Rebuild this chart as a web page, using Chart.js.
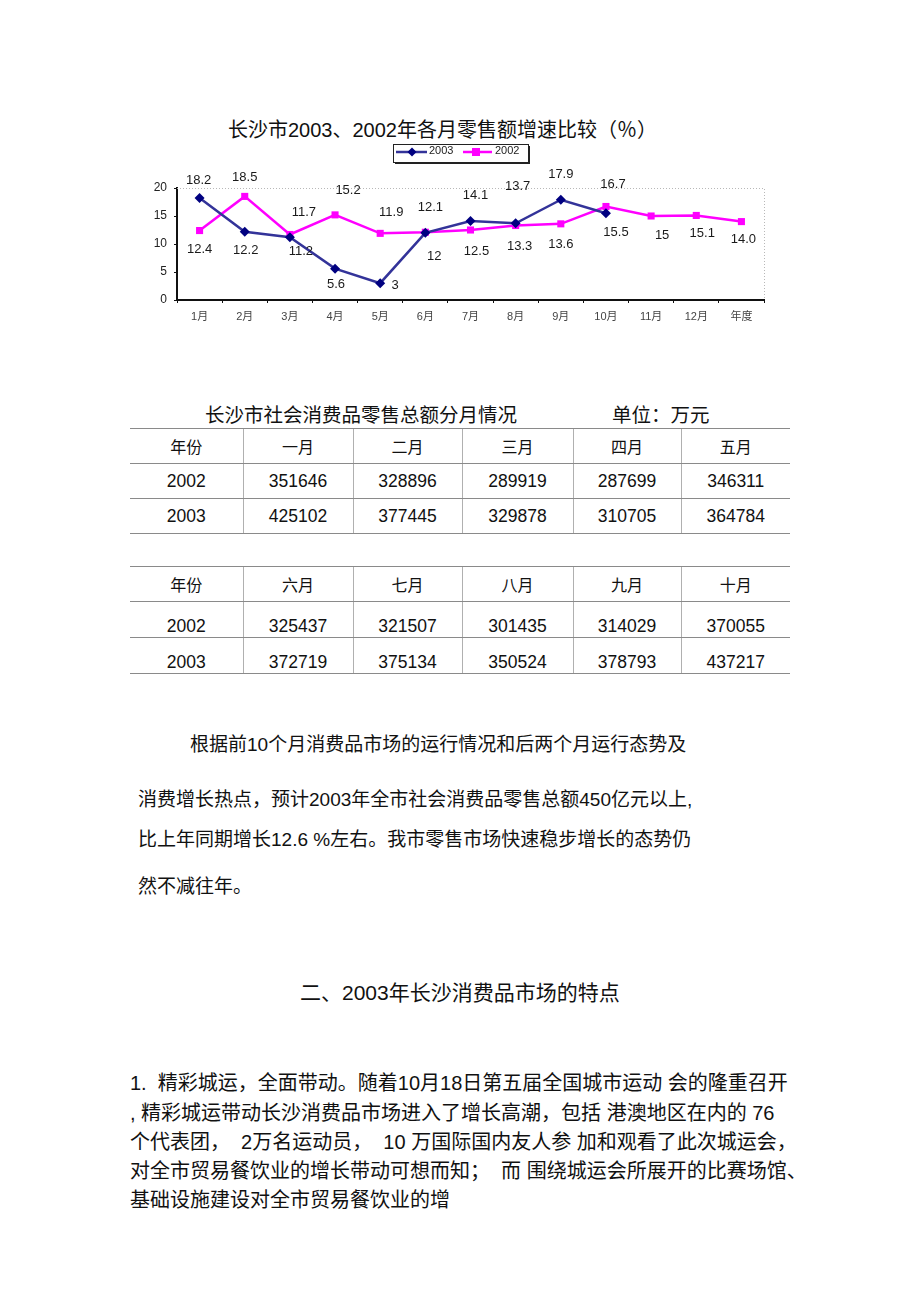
<!DOCTYPE html>
<html>
<head>
<meta charset="utf-8">
<script src="https://cdn.jsdelivr.net/npm/chart.js@4.4.1/dist/chart.umd.min.js"></script>
<style>
    html, body {
        margin: 0;
        padding: 0;
        background: #fff;
    }
    body {
        position: relative;
        width: 920px;
        height: 1303px;
        font-family: "Liberation Sans", "Noto Sans CJK SC", sans-serif;
        color: #111;
        overflow: hidden;
    }
    .line {
        position: absolute;
        white-space: pre;
        line-height: 1;
    }
    #chartWrap {
        position: absolute;
        left: 120px;
        top: 100px;
        width: 680px;
        height: 240px;
    }
    table.sales {
        position: absolute;
        left: 130px;
        width: 660px;
        border-collapse: collapse;
        table-layout: fixed;
        font-size: 17.5px;
    }
    table.sales td {
        text-align: center;
        border-top: 1px solid #8a8a8a;
        border-bottom: 1px solid #8a8a8a;
        border-left: 1px solid #b0b0b0;
        padding: 0;
        height: 34px;
    }
    table.sales td:first-child {
        border-left: none;
    }
    table.sales tr.head td {
        font-size: 16px;
    }
    table.sales tr.low td {
        padding-top: 14px;
        height: 20px;
    }
</style>
</head>
<body>

<div class="line" style="left:228px; top:120px; font-size:20px;">长沙市2003、2002年各月零售额增速比较（％）</div>

<div id="chartWrap"><canvas id="growthChart" width="680" height="240"></canvas></div>

<div class="line" style="left:205px; top:406px; font-size:19.5px;">长沙市社会消费品零售总额分月情况</div>
<div class="line" style="left:612px; top:406px; font-size:19.5px;">单位：万元</div>

<table class="sales" id="table1" style="top:428px;"></table>
<table class="sales" id="table2" style="top:566px;"></table>

<div class="line" style="left:190px; top:735px; font-size:19px;">根据前10个月消费品市场的运行情况和后两个月运行态势及</div>
<div class="line" style="left:138px; top:790px; font-size:19px;">消费增长热点，预计2003年全市社会消费品零售总额450亿元以上,</div>
<div class="line" style="left:138px; top:830px; font-size:19px;">比上年同期增长12.6 %左右。我市零售市场快速稳步增长的态势仍</div>
<div class="line" style="left:138px; top:877px; font-size:19px;">然不减往年。</div>

<div class="line" style="left:300px; top:982px; font-size:21px;">二、2003年长沙消费品市场的特点</div>

<div class="line" style="left:130px; top:1073px; font-size:20px;">1.  精彩城运，全面带动。随着10月18日第五届全国城市运动 会的隆重召开</div>
<div class="line" style="left:130px; top:1103px; font-size:20px;">, 精彩城运带动长沙消费品市场进入了增长高潮，包括 港澳地区在内的 76</div>
<div class="line" style="left:130px; top:1132px; font-size:20px;">个代表团，  2万名运动员，  10 万国际国内友人参 加和观看了此次城运会，</div>
<div class="line" style="left:130px; top:1161px; font-size:20px;">对全市贸易餐饮业的增长带动可想而知；  而 围绕城运会所展开的比赛场馆、</div>
<div class="line" style="left:130px; top:1190px; font-size:20px;">基础设施建设对全市贸易餐饮业的增</div>

<script>
// ===== DATA =====
const months = ["1月", "2月", "3月", "4月", "5月", "6月", "7月", "8月", "9月", "10月", "11月", "12月", "年度"];
const growth2003 = [18.2, 12.2, 11.2, 5.6, 3, 12, 14.1, 13.7, 17.9, 15.5, null, null, null];
const growth2002 = [12.4, 18.5, 11.7, 15.2, 11.9, 12.1, 12.5, 13.3, 13.6, 16.7, 15, 15.1, 14.0];
const yTicks = [0, 5, 10, 15, 20];

// label texts as printed on the chart
const labels2003 = ["18.2", "12.2", "11.2", "5.6", "3", "12", "14.1", "13.7", "17.9", "15.5"];
const labels2002 = ["12.4", "18.5", "11.7", "15.2", "11.9", "12.1", "12.5", "13.3", "13.6", "16.7", "15", "15.1", "14.0"];

// label offsets from the point (px)
const offset2003 = [[-1, -18], [1, 19], [11, 14], [1, 16], [15, 2], [9, 24], [5, -26], [2, -37], [0, -25], [10, 19]];
const offset2002 = [[0, 19], [0, -19], [14, -22], [13, -24], [11, -21], [5, -25], [6, 21], [4, 21], [0, 21], [7, -22], [11, 19], [6, 18], [2, 18]];

// table data (万元)
const tableMonths1 = ["一月", "二月", "三月", "四月", "五月"];
const tableMonths2 = ["六月", "七月", "八月", "九月", "十月"];
const sales2002a = [351646, 328896, 289919, 287699, 346311];
const sales2003a = [425102, 377445, 329878, 310705, 364784];
const sales2002b = [325437, 321507, 301435, 314029, 370055];
const sales2003b = [372719, 375134, 350524, 378793, 437217];

const COLOR_2003 = "#333399";
const POINT_2003 = "#000080";
const COLOR_2002 = "#ff00ff";

// ===== TABLES =====
function buildTable(id, heads, row2002, row2003, lowRows) {
    const table = document.getElementById(id);
    const rowClass = lowRows ? "low" : "";
    let html = '<colgroup><col style="width:113px"><col style="width:110px"><col style="width:109px"><col style="width:111px"><col style="width:108px"><col style="width:109px"></colgroup>';
    html += '<tr class="head"><td>年份</td>' + heads.map((h) => `<td>${h}</td>`).join("") + "</tr>";
    html += `<tr class="${rowClass}"><td>2002</td>` + row2002.map((v) => `<td>${v}</td>`).join("") + "</tr>";
    html += `<tr class="${rowClass}"><td>2003</td>` + row2003.map((v) => `<td>${v}</td>`).join("") + "</tr>";
    table.innerHTML = html;
}

buildTable("table1", tableMonths1, sales2002a, sales2003a, false);
buildTable("table2", tableMonths2, sales2002b, sales2003b, true);

// ===== CHART =====
// dotted top/right frame of the plot area
const framePlugin = {
    id: "frame",
    beforeDatasetsDraw(chart) {
        const { ctx, chartArea: a } = chart;
        ctx.save();
        ctx.strokeStyle = "#b8b8b8";
        ctx.lineWidth = 1;
        ctx.setLineDash([1, 2]);
        ctx.beginPath();
        ctx.moveTo(a.left, a.top + 0.5);
        ctx.lineTo(a.right + 0.5, a.top + 0.5);
        ctx.lineTo(a.right + 0.5, a.bottom);
        ctx.stroke();
        ctx.restore();
    },
};

// value labels next to each point
const valueLabelPlugin = {
    id: "valueLabels",
    afterDatasetsDraw(chart) {
        const ctx = chart.ctx;
        const sets = [
            { meta: chart.getDatasetMeta(0), texts: labels2003, offs: offset2003 },
            { meta: chart.getDatasetMeta(1), texts: labels2002, offs: offset2002 },
        ];
        ctx.save();
        ctx.font = '13px "Liberation Sans", sans-serif';
        ctx.fillStyle = "#1a1a1a";
        ctx.textAlign = "center";
        ctx.textBaseline = "middle";
        sets.forEach((s) => {
            s.texts.forEach((t, i) => {
                const el = s.meta.data[i];
                if (!el || el.skip) return;
                ctx.fillText(t, el.x + s.offs[i][0], el.y + s.offs[i][1]);
            });
        });
        ctx.restore();
    },
};

// legend box drawn like the spreadsheet legend
const legendBoxPlugin = {
    id: "legendBox",
    afterDraw(chart) {
        const ctx = chart.ctx;
        const x = 273, y = 44, w = 135, h = 18;
        ctx.save();
        ctx.fillStyle = "#222";
        ctx.fillRect(x + 2, y + 2, w, h);
        ctx.fillStyle = "#fff";
        ctx.fillRect(x, y, w, h);
        ctx.strokeStyle = "#222";
        ctx.lineWidth = 1;
        ctx.strokeRect(x + 0.5, y + 0.5, w, h);

        const my = y + 8;
        // 2003
        ctx.strokeStyle = COLOR_2003;
        ctx.lineWidth = 2.5;
        ctx.beginPath();
        ctx.moveTo(x + 3, my);
        ctx.lineTo(x + 34, my);
        ctx.stroke();
        ctx.fillStyle = POINT_2003;
        ctx.beginPath();
        ctx.moveTo(x + 19, my - 4.5);
        ctx.lineTo(x + 23.5, my);
        ctx.lineTo(x + 19, my + 4.5);
        ctx.lineTo(x + 14.5, my);
        ctx.closePath();
        ctx.fill();
        // 2002
        ctx.strokeStyle = COLOR_2002;
        ctx.beginPath();
        ctx.moveTo(x + 70, my);
        ctx.lineTo(x + 99, my);
        ctx.stroke();
        ctx.fillStyle = COLOR_2002;
        ctx.fillRect(x + 79, my - 4, 8, 8);

        ctx.fillStyle = "#222";
        ctx.font = '11px "Liberation Sans", sans-serif';
        ctx.textBaseline = "middle";
        ctx.textAlign = "left";
        ctx.fillText("2003", x + 36, my - 1);
        ctx.fillText("2002", x + 102, my - 1);
        ctx.restore();
    },
};

new Chart(document.getElementById("growthChart"), {
    type: "line",
    data: {
        labels: months,
        datasets: [
            {
                label: "2003",
                data: growth2003,
                borderColor: COLOR_2003,
                backgroundColor: POINT_2003,
                borderWidth: 2.5,
                pointStyle: "rectRot",
                pointRadius: 5,
                pointBorderWidth: 0,
                pointBackgroundColor: POINT_2003,
                tension: 0,
                spanGaps: false,
            },
            {
                label: "2002",
                data: growth2002,
                borderColor: COLOR_2002,
                backgroundColor: COLOR_2002,
                borderWidth: 2.5,
                pointStyle: "rect",
                pointRadius: 5,
                pointBorderWidth: 0,
                pointBackgroundColor: COLOR_2002,
                tension: 0,
            },
        ],
    },
    options: {
        responsive: false,
        animation: false,
        devicePixelRatio: 1,
        layout: { padding: { left: 0, top: 88, right: 36, bottom: 0 } },
        plugins: {
            legend: { display: false },
            title: { display: false },
            tooltip: { enabled: false },
        },
        scales: {
            x: {
                type: "category",
                offset: true,
                afterFit(scale) {
                    scale.height = 40;
                },
                grid: {
                    display: true,
                    drawOnChartArea: false,
                    drawTicks: true,
                    tickLength: 3,
                    offset: true,
                    color: "#111",
                },
                border: { display: true, color: "#111", width: 2 },
                ticks: {
                    color: "#444",
                    font: { size: 11, family: '"Liberation Sans", "Noto Sans CJK SC", sans-serif' },
                    padding: 7,
                    maxRotation: 0,
                    autoSkip: false,
                },
            },
            y: {
                min: yTicks[0],
                max: yTicks[yTicks.length - 1],
                afterFit(scale) {
                    scale.width = 57;
                },
                afterBuildTicks(scale) {
                    scale.ticks = yTicks.map((v) => ({ value: v }));
                },
                grid: {
                    display: true,
                    drawOnChartArea: false,
                    tickLength: 3,
                    color: "#111",
                },
                border: { display: true, color: "#111", width: 2 },
                ticks: {
                    color: "#222",
                    font: { size: 12, family: '"Liberation Sans", sans-serif' },
                    padding: 7,
                },
            },
        },
    },
    plugins: [framePlugin, valueLabelPlugin, legendBoxPlugin],
});
</script>
</body>
</html>
